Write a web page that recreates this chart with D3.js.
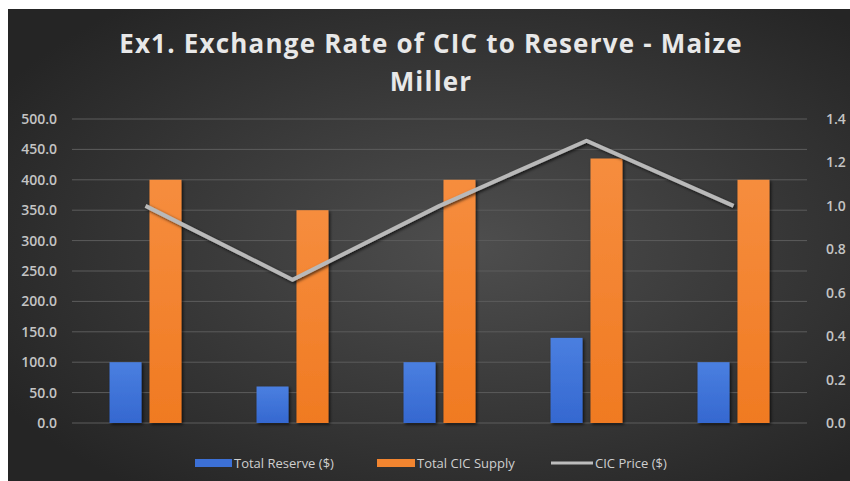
<!DOCTYPE html>
<html>
<head>
<meta charset="utf-8">
<script src="https://cdn.jsdelivr.net/npm/d3@7"></script>
<style>
  body { margin: 0; background: #fff; }
  svg { display: block; }
</style>
</head>
<body>
<script>
// data
let categories = ["1", "2", "3", "4", "5"];
let reserve = [100, 60, 100, 140, 100];
let supply = [400, 350, 400, 435, 400];
let price = [1.0, 0.66, 1.0, 1.3, 1.0];
let leftTicks = [0, 50, 100, 150, 200, 250, 300, 350, 400, 450, 500];
let rightTicks = [0, 0.2, 0.4, 0.6, 0.8, 1.0, 1.2, 1.4];
let seriesNames = ["Total Reserve ($)", "Total CIC Supply", "CIC Price ($)"];

let width = 850,
    height = 481;

let svg = d3.select("body").append("svg")
    .attr("width", width).attr("height", height);

let defs = svg.append("defs");
let bg = defs.append("radialGradient").attr("id", "bg")
    .attr("cx", "55%").attr("cy", "50%").attr("r", "65%");
bg.append("stop").attr("offset", "0%").attr("stop-color", "#4e4e4e");
bg.append("stop").attr("offset", "100%").attr("stop-color", "#252525");

let gBlue = defs.append("linearGradient").attr("id", "blue")
    .attr("x1", 0).attr("y1", 0).attr("x2", 0).attr("y2", 1);
gBlue.append("stop").attr("offset", "0%").attr("stop-color", "#4a7fe0");
gBlue.append("stop").attr("offset", "100%").attr("stop-color", "#3568d0");
let gOrange = defs.append("linearGradient").attr("id", "orange")
    .attr("x1", 0).attr("y1", 0).attr("x2", 0).attr("y2", 1);
gOrange.append("stop").attr("offset", "0%").attr("stop-color", "#f68d3e");
gOrange.append("stop").attr("offset", "100%").attr("stop-color", "#f07a22");

let shadow = defs.append("filter").attr("id", "shadow")
    .attr("x", "-20%").attr("y", "-20%").attr("width", "160%").attr("height", "160%");
shadow.append("feDropShadow").attr("dx", 1.5).attr("dy", 1.5)
    .attr("stdDeviation", 1.5).attr("flood-color", "#000").attr("flood-opacity", 0.7);

// chart background (image has a white margin top/left)
svg.append("rect").attr("x", 8).attr("y", 9)
    .attr("width", width - 8).attr("height", height - 9)
    .attr("fill", "url(#bg)");

// title
let title = svg.append("text")
    .attr("text-anchor", "middle")
    .attr("font-family", "'Open Sans', sans-serif")
    .attr("font-weight", "bold")
    .attr("font-size", 26)
    .attr("letter-spacing", 1.2)
    .attr("fill", "#e8e8e8");
title.append("tspan").attr("x", 431).attr("y", 53).text("Ex1. Exchange  Rate of CIC to Reserve - Maize");
title.append("tspan").attr("x", 431).attr("y", 91).text("Miller");

// scales
let plot = { left: 72, right: 807, top: 119, bottom: 423 };

let x0 = d3.scaleBand().domain(categories)
    .range([plot.left, plot.right]);
let x1 = d3.scaleBand().domain(["reserve", "supply"])
    .range([0, x0.bandwidth()])
    .paddingInner(0.2).paddingOuter(0.94);
let yL = d3.scaleLinear().domain([0, 500]).range([plot.bottom, plot.top]);
let yR = d3.scaleLinear().domain([0, 1.4]).range([plot.bottom, plot.top]);

// gridlines
svg.append("g").selectAll("line").data(leftTicks).join("line")
    .attr("x1", plot.left).attr("x2", plot.right)
    .attr("y1", d => yL(d)).attr("y2", d => yL(d))
    .attr("stroke", "#5c5c5c").attr("stroke-width", 1);

// axes
let tickFont = "'Open Sans', sans-serif";
let axL = svg.append("g").attr("transform", `translate(${plot.left - 12},0)`)
    .call(d3.axisLeft(yL).tickValues(leftTicks).tickFormat(d3.format(".1f")).tickSize(0).tickPadding(3));
let axR = svg.append("g").attr("transform", `translate(${plot.right + 17},0)`)
    .call(d3.axisRight(yR).tickValues(rightTicks).tickFormat(d3.format(".1f")).tickSize(0).tickPadding(2));
[axL, axR].forEach(ax => {
    ax.select(".domain").remove();
    ax.selectAll("text")
        .attr("font-family", tickFont)
        .attr("font-size", 14)
        .attr("font-weight", 600)
        .attr("fill", "#c4c4c4");
});

// bars
let groups = svg.append("g").selectAll("g").data(categories).join("g")
    .attr("transform", d => `translate(${x0(d)},0)`);

groups.append("rect")
    .attr("x", x1("reserve"))
    .attr("width", x1.bandwidth())
    .attr("y", (d, i) => yL(reserve[i]))
    .attr("height", (d, i) => yL(0) - yL(reserve[i]))
    .attr("fill", "url(#blue)")
    .attr("filter", "url(#shadow)");

groups.append("rect")
    .attr("x", x1("supply"))
    .attr("width", x1.bandwidth())
    .attr("y", (d, i) => yL(supply[i]))
    .attr("height", (d, i) => yL(0) - yL(supply[i]))
    .attr("fill", "url(#orange)")
    .attr("filter", "url(#shadow)");

// price line
let line = d3.line()
    .x((d, i) => x0(categories[i]) + x0.bandwidth() / 2)
    .y(d => yR(d));

svg.append("path").attr("d", line(price))
    .attr("fill", "none")
    .attr("stroke", "#b9b9b9")
    .attr("stroke-width", 4)
    .attr("stroke-linejoin", "round")
    .attr("filter", "url(#shadow)");

// legend
let legend = svg.append("g")
    .attr("font-family", tickFont)
    .attr("font-size", 13)
    .attr("fill", "#cfcfcf");
let legX = [195, 377, 551];
let legW = [37, 38, 42];

legend.append("rect").attr("x", legX[0]).attr("y", 459).attr("width", legW[0]).attr("height", 8).attr("fill", "#3c70d6");
legend.append("rect").attr("x", legX[1]).attr("y", 459).attr("width", legW[1]).attr("height", 8).attr("fill", "#f28530");
legend.append("line").attr("x1", legX[2]).attr("x2", legX[2] + legW[2]).attr("y1", 463).attr("y2", 463)
    .attr("stroke", "#bdbdbd").attr("stroke-width", 3);

legend.selectAll("text").data(seriesNames).join("text")
    .attr("x", (d, i) => legX[i] + legW[i] + 2)
    .attr("y", 468)
    .text(d => d);
</script>
</body>
</html>
